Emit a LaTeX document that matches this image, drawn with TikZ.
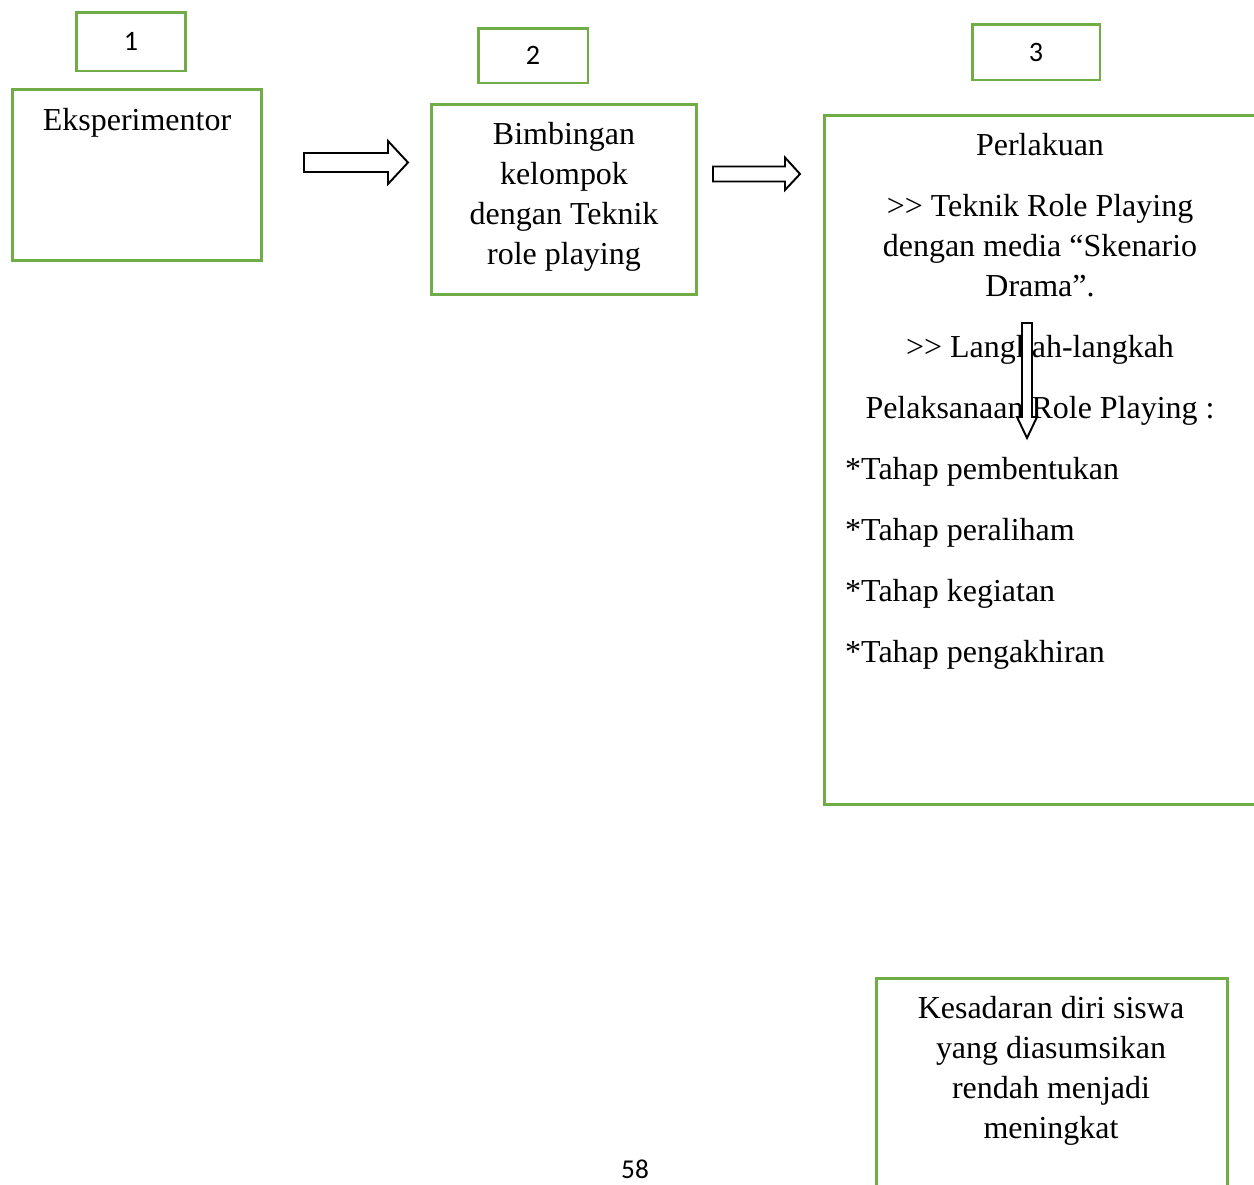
\documentclass[tikz,border=0pt]{standalone}
\usepackage{fontspec}
\setmainfont{Liberation Serif}
\newfontfamily\numfont{Carlito}
\usetikzlibrary{positioning}
\definecolor{boxgreen}{RGB}{112,173,71}
\tikzset{
    box line/.style={draw=boxgreen,line width=1.7pt},
    numbox/.style={box line,font=\numfont\fontsize{16}{19}\selectfont,inner sep=0pt},
    textbox/.style={box line,inner sep=0pt},
    block arrow/.style={draw=black,fill=white,line width=1.1pt,line join=miter},
    para/.style={align=center},
    tahap/.style={anchor=west},
}
\tikzstyle{every node}=[font=\fontsize{18.2}{22.7}\selectfont]

\begin{document}
\begin{tikzpicture}[x=0.02cm,y=-0.02cm]
        \useasboundingbox (0,0) rectangle (1254,1184);
        % numbered boxes
        \node[numbox,minimum width=2.2cm,minimum height=1.18cm] (nomor1) at (131,41.5) {1};
        \node[numbox,minimum width=2.2cm,minimum height=1.1cm] (nomor2) at (533,55.5) {2};
        \node[numbox,minimum width=2.56cm,minimum height=1.12cm] (nomor3) at (1036,52) {3};
        % main boxes
        \node[textbox,minimum width=5cm,minimum height=3.44cm] (eksperimentor) at (137,175) {};
        \node (judul1) at (137,123) {Eksperimentor};
        \node[textbox,minimum width=5.32cm,minimum height=3.82cm] (bimbingan) at (564,199.5) {};
        \node[para] (judul2) at (564,197) {Bimbingan\\kelompok\\dengan Teknik\\role playing};
        \node[textbox,anchor=north west,minimum width=9.54cm,minimum height=13.78cm] (perlakuan) at (823,114) {};
        \node (judul3) at (1040,145) {Perlakuan};
        \node[para] (teknik) at (1040,246) {{>}{>} Teknik Role Playing\\dengan media “Skenario\\Drama”.};
        \node (langkah) at (1040,350) {{>}{>} Langkah-langkah};
        \node (pelaksanaan) at (1040,411) {Pelaksanaan Role Playing :};
        \node[tahap] (tahap1) at (839,472) {*Tahap pembentukan};
        \node[tahap] (tahap2) at (839,533) {*Tahap peraliham};
        \node[tahap] (tahap3) at (839,594) {*Tahap kegiatan};
        \node[tahap] (tahap4) at (839,655) {*Tahap pengakhiran};
        \node[textbox,anchor=north west,minimum width=7.02cm,minimum height=4.86cm] (kesadaran) at (875,977) {};
        \node[para] (hasil) at (1051,1071) {Kesadaran diri siswa\\yang diasumsikan\\rendah menjadi\\meningkat};
        % block arrows
        \draw[block arrow] (304,153) -- (388,153) -- (388,141) -- (408,162.5)
            -- (388,184) -- (388,172) -- (304,172) -- cycle;
        \draw[block arrow] (713,166.5) -- (785,166.5) -- (785,157.5) -- (800,174)
            -- (785,190) -- (785,181.5) -- (713,181.5) -- cycle;
        \draw[block arrow] (1022,323) -- (1022,417) -- (1017,417) -- (1027,438)
            -- (1037,417) -- (1032,417) -- (1032,323) -- cycle;
        \node[font=\numfont\fontsize{15.5}{18}\selectfont] (halaman) at (635,1169) {58};
\end{tikzpicture}
\end{document}
